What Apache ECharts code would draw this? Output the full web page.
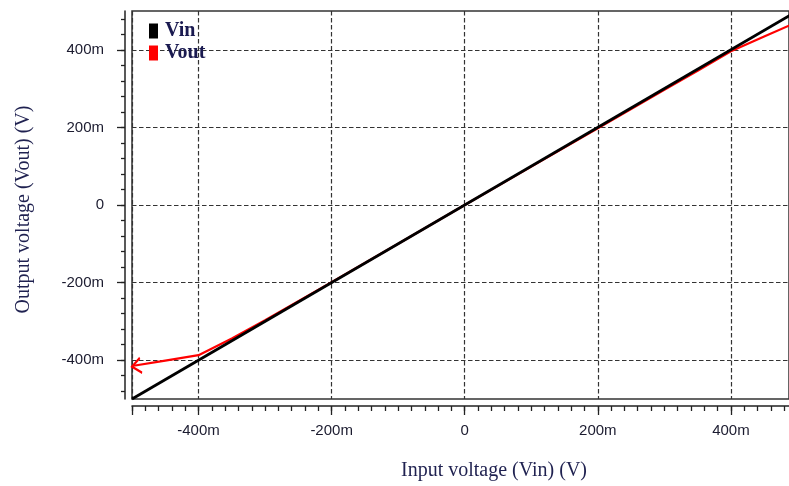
<!DOCTYPE html>
<html>
<head>
<meta charset="utf-8">
<script src="https://cdn.jsdelivr.net/npm/echarts@6/dist/echarts.min.js"></script>
<style>
  html, body { margin: 0; padding: 0; background: #ffffff; }
  #chart { width: 789px; height: 486px; }
</style>
</head>
<body>
<div id="chart"></div>
<script>
// DC sweep of the buffer: input voltage on x, traced voltages on y (volts)
const vinSweep = [-0.5, 0.5];
const vinValues = [-0.5, 0.5];

const voutSweep = [-0.5, -0.45, -0.4, -0.35, -0.3, -0.2, -0.1, 0, 0.1, 0.2, 0.3, 0.35, 0.4, 0.45, 0.5];
const voutValues = [-0.415, -0.401, -0.387, -0.344, -0.297, -0.199, -0.1, 0, 0.099, 0.198, 0.297, 0.346, 0.396, 0.434, 0.472];

// Labelled (major) tick positions, shared by both axes
const majorTicks = [-0.4, -0.2, 0, 0.2, 0.4];
const xEndTick = -0.5;

// Axis ranges
const X_MIN = -0.5, X_MAX = 0.4873;
const Y_MIN = -0.5, Y_MAX = 0.5;

// Minor tick steps: 20m along x, 40m along y
const xMinorTicks = [];
for (let k = -25; k <= 24; k++) xMinorTicks.push(+(k * 0.02).toFixed(3));
const yMinorTicks = [];
for (let k = -12; k <= 12; k++) yMinorTicks.push(+(k * 0.04).toFixed(3));

const milli = v => (Math.abs(v) < 1e-9 ? '0' : Math.round(v * 1000) + 'm');

const AXIS_COLOR = '#222222';
const LABEL_COLOR = '#1b1b2f';
const TITLE_COLOR = '#1f2150';
const labelFont = { fontFamily: '"Liberation Sans", Arial, sans-serif', fontSize: 15, color: LABEL_COLOR };
const titleFont = { fontFamily: '"Liberation Serif", "Times New Roman", serif', fontSize: 20, color: TITLE_COLOR };
const gridLine = { show: true, lineStyle: { color: '#333333', width: 1.2, type: [4.5, 2.5] } };

const chart = echarts.init(document.getElementById('chart'), null, { renderer: 'canvas' });

const voutData = voutSweep.map((x, i) => [x, voutValues[i]]);
// open arrow head on the first point of the Vout trace
voutData[0] = {
  value: voutData[0],
  symbol: 'path://M10 0 L0 8 L10 16',
  symbolSize: [9, 15],
  symbolOffset: [4.5, 0],
  symbolRotate: 9,
  itemStyle: { color: 'none', borderColor: '#ff0000', borderWidth: 2 }
};

chart.setOption({
  animation: false,
  backgroundColor: '#ffffff',
  grid: {
    left: 132, top: 11, right: -2, bottom: 86,
    show: true, borderColor: '#333333', borderWidth: 1.5, backgroundColor: 'transparent'
  },
  legend: {
    orient: 'vertical',
    left: 144, top: 16,
    itemWidth: 9, itemHeight: 15, itemGap: 2,
    icon: 'rect',
    textStyle: {
      fontFamily: '"Liberation Serif", "Times New Roman", serif',
      fontSize: 20, fontWeight: 'bold', color: '#1a1a50', padding: [0, 0, 0, 2]
    },
    data: ['Vin', 'Vout']
  },
  xAxis: [
    {
      type: 'value', min: X_MIN, max: X_MAX, position: 'bottom', offset: 7,
      axisLine: { show: true, onZero: false, lineStyle: { color: AXIS_COLOR, width: 1.5 } },
      axisTick: { show: true, customValues: xMinorTicks, length: 5, lineStyle: { color: AXIS_COLOR, width: 1.3 } },
      axisLabel: { show: false },
      splitLine: { show: false }
    },
    {
      type: 'value', min: X_MIN, max: X_MAX, position: 'bottom', offset: 7,
      name: 'Input voltage (Vin) (V)', nameLocation: 'middle', nameGap: 55,
      nameTextStyle: Object.assign({}, titleFont, { padding: [0, 0, 0, 67] }),
      axisLine: { show: false, onZero: false },
      axisTick: { show: true, customValues: [xEndTick].concat(majorTicks), length: 9, lineStyle: { color: AXIS_COLOR, width: 1.3 } },
      axisLabel: Object.assign({ customValues: majorTicks, formatter: milli, margin: 17 }, labelFont),
      splitLine: gridLine
    }
  ],
  yAxis: [
    {
      type: 'value', min: Y_MIN, max: Y_MAX, position: 'left', offset: 7,
      axisLine: { show: true, onZero: false, lineStyle: { color: AXIS_COLOR, width: 1.5 } },
      axisTick: { show: true, customValues: yMinorTicks, length: 4, lineStyle: { color: AXIS_COLOR, width: 1.3 } },
      axisLabel: { show: false },
      splitLine: { show: false }
    },
    {
      type: 'value', min: Y_MIN, max: Y_MAX, position: 'left', offset: 7,
      name: 'Output voltage (Vout) (V)', nameLocation: 'middle', nameGap: 91,
      nameTextStyle: Object.assign({}, titleFont, { padding: [0, 9, 0, 0] }),
      axisLine: { show: false, onZero: false },
      axisTick: { show: true, customValues: majorTicks, length: 8, lineStyle: { color: AXIS_COLOR, width: 1.3 } },
      axisLabel: Object.assign({ customValues: majorTicks, formatter: milli, margin: 21 }, labelFont),
      splitLine: gridLine
    }
  ],
  series: [
    {
      name: 'Vin', type: 'line', xAxisIndex: 0, yAxisIndex: 0,
      data: vinSweep.map((x, i) => [x, vinValues[i]]),
      symbol: 'none', z: 4,
      lineStyle: { color: '#000000', width: 2.8 },
      itemStyle: { color: '#000000' }
    },
    {
      name: 'Vout', type: 'line', xAxisIndex: 0, yAxisIndex: 0,
      data: voutData,
      symbol: 'none', showSymbol: true, clip: false, z: 3,
      lineStyle: { color: '#ff0000', width: 2.2 },
      itemStyle: { color: '#ff0000' }
    }
  ]
});
</script>
</body>
</html>
